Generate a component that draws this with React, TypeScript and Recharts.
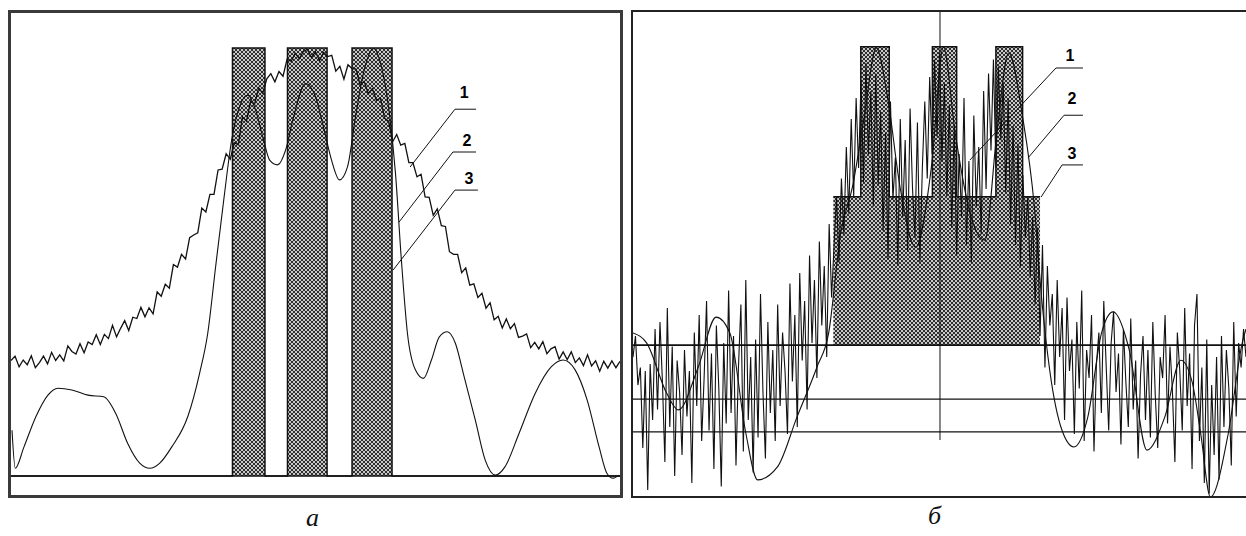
import { ComposedChart, Line, Area, XAxis, YAxis, ReferenceLine, ReferenceDot } from 'recharts';

// ---- panel "а" ----
// broad noisy spectrum (1), sampled every 2 channels
const aNoisy = [
  27.0, 28.0, 25.5, 27.1, 26.0, 28.1, 25.3, 26.5, 28.0, 26.2,
  28.9, 27.0, 28.3, 26.9, 30.4, 29.1, 28.5, 30.9, 28.8, 31.3,
  30.7, 33.0, 30.7, 33.1, 32.1, 35.2, 32.5, 34.5, 36.3, 34.0,
  37.1, 36.8, 39.4, 37.2, 39.3, 37.9, 43.0, 42.0, 44.8, 43.9,
  49.4, 48.8, 51.8, 50.7, 55.7, 56.3, 56.8, 62.6, 61.7, 65.8,
  65.8, 71.5, 71.7, 75.3, 74.0, 77.9, 77.4, 83.9, 82.9, 87.5,
  86.9, 90.7, 89.4, 92.8, 94.0, 92.1, 94.5, 93.4, 97.4, 96.9,
  98.8, 97.5, 99.2, 99.7, 97.8, 99.1, 97.1, 99.0, 98.0, 98.3,
  94.6, 95.7, 92.7, 96.1, 95.2, 95.1, 91.3, 92.2, 89.3, 90.5,
  87.8, 88.3, 83.6, 82.9, 78.1, 79.8, 77.3, 77.7, 73.2, 73.2,
  69.9, 70.5, 65.2, 65.1, 60.9, 62.4, 58.5, 58.3, 52.4, 51.8,
  51.8, 47.5, 48.6, 44.6, 44.9, 41.7, 42.7, 39.2, 40.5, 36.5,
  37.3, 34.6, 36.7, 34.4, 35.6, 32.4, 32.7, 33.2, 30.0, 31.2,
  29.7, 31.4, 28.6, 29.7, 30.2, 27.3, 29.0, 27.2, 29.0, 26.5,
  27.6, 25.8, 28.3, 25.7, 26.9, 24.5, 26.8, 25.2, 26.9, 25.3,
  26.8,
];
const A_STEP = 2;

// smooth curve (2)
const aSmoothX = [0.5, 2.1, 6.4, 12.3, 18.2, 23.1, 30, 37.9, 45.7, 51.6, 57.5, 63.4, 68.4, 73.3, 79.2, 87.1, 92.9, 96.9, 100.8, 104.8, 108.7, 112.6, 116.6, 120.5, 124.4, 127.4, 131.3, 135.3, 139.2, 145.1, 150, 153.9, 157.9, 161.8, 165.8, 169.7, 173.6, 178.5, 182.5, 186.4, 189.4, 192.3, 195.3, 199.2, 203.2, 207.1, 211, 214.9, 218.9, 222.8, 228.7, 233.6, 238.6, 243.4, 250.3, 258.2, 266.1, 272, 277.9, 283.8, 289.7, 293.6, 296.6, 299.6];
const aSmoothY = [10.7, 1.8, 6.8, 13.9, 18.9, 20.5, 20.1, 18.9, 18.5, 14.6, 7.6, 3.0, 1.8, 3.0, 6.8, 13.9, 24, 33.3, 48.9, 64.5, 78.5, 86.3, 89, 85.5, 78.5, 73.8, 72.7, 76.2, 83.9, 91.7, 88.6, 81.6, 73.8, 69.2, 72.3, 83.9, 94.1, 99.9, 95.6, 84.7, 70.7, 50.5, 33.3, 24.8, 22.8, 27.1, 32.5, 33.7, 31, 24, 13.1, 3.7, 0.2, 2.2, 10, 19.3, 25.5, 27.1, 24.8, 17.8, 6.8, 0.6, -0.5, 0.2];

// filter passbands (3)
const aBandX = [0, 109.1, 125.1, 136.2, 155.7, 168, 187.7, 300];
const aBandY = [0, 100, 0, 100, 0, 100, 0, 0];

const aLabelX = [223.2, 224.6, 225.6];
const aLabelY = [89.7, 78.5, 69.6];
const aLeaders = [
  [[196.6, 72.2], [218.7, 85.7], [229.1, 85.7]],
  [[191.1, 59.3], [217.7, 75.7], [229.1, 75.7]],
  [[188.2, 48.1], [218.7, 66.8], [230, 66.8]],
];

// ---- panel "б" ----
const bNoisy = [
  12, 18, 4, 9, -14, 8, -26, 10, -6, 20,
  -3, 22, 5, -18, 26, -8, 15, -22, 11, 2,
  -16, 14, -5, 8, -24, 19, -2, 24, -12, 6,
  28, -9, 13, -20, 21, 3, -25, 16, -7, 31,
  -4, 18, -19, 9, 27, -15, 34, -6, 12, -21,
  17, -11, 30, 2, -17, 22, -4, 14, -12, 27,
  -2, 19, 8, -10, 33, 5, 24, -8, 36, 11,
  28, -3, 41, 16, 34, 6, 45, 21, 38, 12,
  50, 29, 44, 58, 39, 63, 47, 72, 53, 80,
  58, 86, 66, 91, 62, 96, 70, 88, 55, 93,
  61, 82, 48, 76, 40, 85, 57, 69, 38, 80,
  52, 74, 42, 83, 60, 46, 79, 39, 66, 85,
  63, 92, 70, 97, 75, 99, 68, 90, 58, 84,
  49, 78, 41, 70, 52, 86, 44, 68, 39, 81,
  55, 72, 47, 88, 60, 93, 71, 97, 66, 95,
  74, 90, 59, 86, 50, 78, 44, 73, 38, 64,
  46, 58, 35, 52, 27, 49, 18, 44, 9, 38,
  21, 30, 4, 34, 12, 26, -6, 29, 8, 17,
  -10, 22, 3, 31, -12, 14, 6, 24, -15, 10,
  19, -4, 28, 9, -9, 16, 25, 2, 13, -13,
  20, 5, -8, 23, -3, 11, -17, 7, 18, -6,
  14, -11, 22, 1, -14, 12, 6, 24, -7, 15,
  2, -18, 19, 8, -9, 26, -2, 13, -20, 21,
  30, -12, 9, -24, 17, -27, 4, -16, 12, -23,
  18, -8, 14, 3, -19, 22, -5, 16, 9, 20,
  12,
];
const B_STEP = 1;

const bSmoothX = [0, 5.6, 13.7, 18.5, 26.6, 33.9, 39.5, 46, 50.8, 58.9, 66.9, 75, 79.8, 84.7, 89.5, 94.3, 99.2, 104, 108.9, 115.3, 121.7, 126.6, 131.4, 137.9, 143.5, 148.4, 153.2, 158.9, 163.7, 166.5, 170, 175, 179.8, 185.5, 191.1, 195.8, 202.4, 209.6, 216.9, 223.4, 228, 231.5, 235.5, 242.8, 248.6, 250];
const bSmoothY = [18.9, 16, 1.7, -3.1, 9.1, 23.4, 18.9, -9.7, -23.1, -19.4, -5.1, 9.1, 18.9, 47.4, 60.6, 80.6, 100.3, 85.4, 60.6, 43.4, 66.3, 100.6, 76, 52, 45.4, 76, 98.9, 80.6, 54.9, 30, 8, -9, -13.7, -5.1, 18.9, 24.9, 14, -14.6, -5.1, 11.1, 5, -9.7, -28, -9.7, 16.5, 20];

const bBandX = [81.7, 92.9, 104.5, 122.1, 132, 148, 158.9, 166];
const bBandY = [57.8, 100.7, 57.8, 100.7, 57.8, 100.7, 57.8, 57.8];
const B_BASE = 15.4;
const bLevels = [15.4, 0, -9.4];
const B_CENTER = 125.2;

const bLabelX = [178.2, 179, 179];
const bLabelY = [98.3, 86, 70.3];
const bLeaders = [
  [[137.4, 68.3], [172.5, 94.6], [183.5, 94.6]],
  [[161.1, 68.9], [175.8, 81.1], [183.5, 81.1]],
  [[166.4, 57.7], [175, 66.9], [183.5, 66.9]],
];

const labelNames = ['1', '2', '3'];
const FONT = 'Liberation Sans, Arial, sans-serif';

const pts = (xs: number[], ys: number[]) => xs.map((x, i) => ({ x, y: ys[i] }));
const sampled = (vals: number[], step: number) => vals.map((y, i) => ({ x: i * step, y }));
const leaderPts = (l: number[][]) => l.map(([x, y]) => ({ x, y }));

const checker = (id: string) => (
  <defs>
    <pattern id={id} width="4" height="4" patternUnits="userSpaceOnUse">
      <rect width="4" height="4" fill="#c8c8c8" />
      <rect width="2" height="2" fill="#2e2e2e" />
      <rect x="2" y="2" width="2" height="2" fill="#2e2e2e" />
    </pattern>
  </defs>
);

const numLabel = (txt: string) => (p: any) => (
  <text x={p.cx} y={p.cy} textAnchor="middle" dominantBaseline="central" fontSize={16} fontWeight={700} fontFamily={FONT} fill="#000">
    {txt}
  </text>
);

function PanelA() {
  return (
    <ComposedChart width={609} height={482} margin={{ top: 0, right: 0, bottom: 0, left: 0 }}>
      {checker('chkA')}
      <XAxis type="number" dataKey="x" domain={[0, 300]} hide allowDataOverflow />
      <YAxis type="number" domain={[-4.44, 108.18]} hide allowDataOverflow />
      <ReferenceLine y={0} stroke="#111" strokeWidth={1.5} />
      <Area data={pts(aBandX, aBandY)} dataKey="y" type="stepAfter" baseValue={0} fill="url(#chkA)" fillOpacity={1} stroke="#111" strokeWidth={1.5} isAnimationActive={false} />
      <Line data={pts(aSmoothX, aSmoothY)} dataKey="y" type="monotone" stroke="#111" strokeWidth={1.1} dot={false} activeDot={false} isAnimationActive={false} />
      <Line data={sampled(aNoisy, A_STEP)} dataKey="y" type="linear" stroke="#111" strokeWidth={1.3} dot={false} activeDot={false} isAnimationActive={false} />
      {aLeaders.map((l, i) => (
        <Line key={'la' + i} data={leaderPts(l)} dataKey="y" type="linear" stroke="#111" strokeWidth={1} dot={false} activeDot={false} isAnimationActive={false} />
      ))}
      {labelNames.map((n, i) => (
        <ReferenceDot key={'ta' + i} x={aLabelX[i]} y={aLabelY[i]} r={1} shape={numLabel(n)} />
      ))}
    </ComposedChart>
  );
}

function PanelB() {
  return (
    <ComposedChart width={613} height={484} margin={{ top: 0, right: 0, bottom: 0, left: 0 }}>
      {checker('chkB')}
      <XAxis type="number" dataKey="x" domain={[0, 250]} hide allowDataOverflow />
      <YAxis type="number" domain={[-27.7, 110.6]} hide allowDataOverflow />
      <Area data={pts(bBandX, bBandY)} dataKey="y" type="stepAfter" baseValue={B_BASE} fill="url(#chkB)" fillOpacity={1} stroke="#111" strokeWidth={1.5} isAnimationActive={false} />
      {bLevels.map((v, i) => (
        <ReferenceLine key={'lv' + i} y={v} stroke="#111" strokeWidth={i === 0 ? 1.8 : 1.3} />
      ))}
      <ReferenceLine segment={[{ x: B_CENTER, y: 110.6 }, { x: B_CENTER, y: -11.7 }]} stroke="#111" strokeWidth={1} />
      <Line data={sampled(bNoisy, B_STEP)} dataKey="y" type="linear" stroke="#111" strokeWidth={1.1} dot={false} activeDot={false} isAnimationActive={false} />
      <Line data={pts(bSmoothX, bSmoothY)} dataKey="y" type="monotone" stroke="#111" strokeWidth={1.1} dot={false} activeDot={false} isAnimationActive={false} />
      {bLeaders.map((l, i) => (
        <Line key={'lb' + i} data={leaderPts(l)} dataKey="y" type="linear" stroke="#111" strokeWidth={1} dot={false} activeDot={false} isAnimationActive={false} />
      ))}
      {labelNames.map((n, i) => (
        <ReferenceDot key={'tb' + i} x={bLabelX[i]} y={bLabelY[i]} r={1} shape={numLabel(n)} />
      ))}
    </ComposedChart>
  );
}

const captionStyle: React.CSSProperties = {
  position: 'absolute',
  fontFamily: 'Liberation Serif, Times New Roman, serif',
  fontStyle: 'italic',
  fontSize: 26,
  lineHeight: '26px',
  color: '#111',
};

export default function App() {
  return (
    <div style={{ position: 'absolute', left: 0, top: 0, width: 1246, height: 536, overflow: 'hidden', background: '#fff' }}>
      <div style={{ position: 'absolute', left: 8, top: 10, width: 615, height: 488, boxSizing: 'border-box', border: '3px solid #3a3a3a' }} />
      <div style={{ position: 'absolute', left: 11, top: 13 }}>
        <PanelA />
      </div>
      <div style={{ position: 'absolute', left: 631, top: 10, width: 630, height: 488, boxSizing: 'border-box', border: '2px solid #222' }} />
      <div style={{ position: 'absolute', left: 633, top: 12 }}>
        <PanelB />
      </div>
      <div style={{ ...captionStyle, left: 306, top: 505 }}>а</div>
      <div style={{ ...captionStyle, left: 928, top: 503 }}>б</div>
    </div>
  );
}
